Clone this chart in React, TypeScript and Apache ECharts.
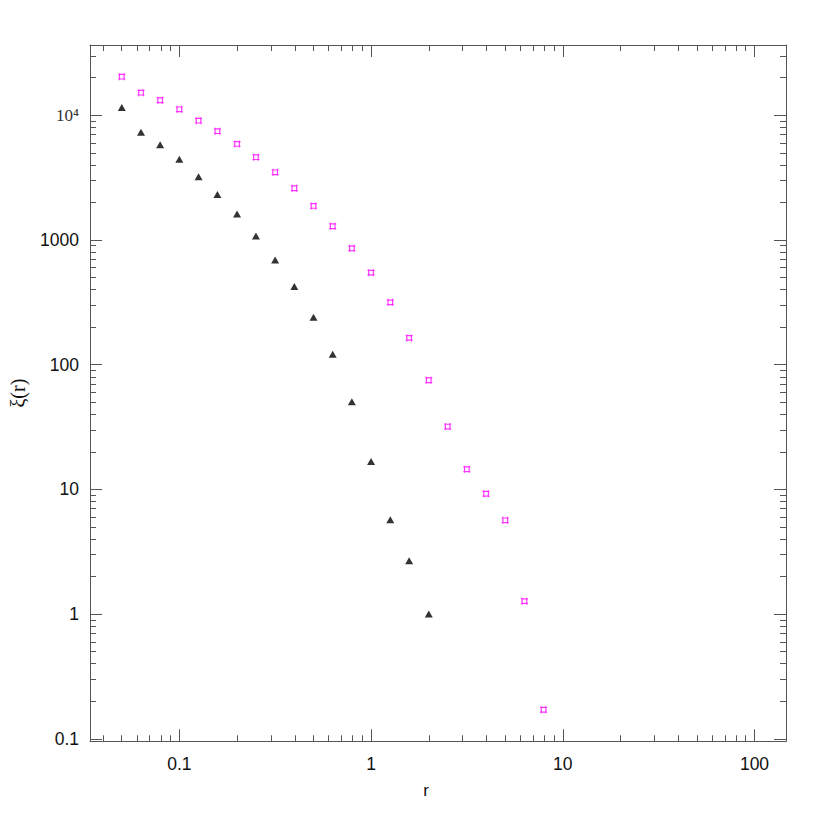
import { useEffect, useRef } from 'react';
import * as echarts from 'echarts';

// separation r (x) for each point
const R_VALUES = [
  0.0501, 0.0631, 0.0794, 0.1, 0.126, 0.158, 0.2, 0.251, 0.316, 0.398, 0.501, 0.631,
  0.794, 1, 1.26, 1.58, 2, 2.51, 3.16, 3.98, 5.01, 6.31, 7.94,
];
// ξ(r) black triangles
const XI_TRIANGLES = [
  11550, 7310, 5810, 4440, 3220, 2320, 1615, 1077, 692, 423, 240, 121, 50.5, 16.7, 5.71, 2.68, 1.0,
];
// ξ(r) magenta squares
const XI_SQUARES = [
  20390, 15170, 13190, 11170, 9050, 7450, 5890, 4610, 3490, 2600, 1875, 1288, 857, 547, 316, 164,
  75.0, 31.9, 14.5, 9.23, 5.65, 1.27, 0.171,
];
const X_MAJOR = [0.1, 1, 10, 100];
const X_LABELS = ['0.1', '1', '10', '100'];
const Y_MAJOR = [0.1, 1, 10, 100, 1000, 10000];
const Y_LABELS = ['0.1', '1', '10', '100', '1000', '10⁴'];
const X_RANGE = [0.0342, 146];
const Y_RANGE = [0.0955, 36600];
const DECADES = [-2, -1, 0, 1, 2, 3, 4];

const lg = (v: number) => Math.log10(v);

function minorLogs(range: number[]) {
  const out: number[] = [];
  DECADES.forEach((e) => {
    for (let d = 2; d <= 9; d++) {
      const v = lg(d) + e;
      if (v > lg(range[0]) && v < lg(range[1])) out.push(v);
    }
  });
  return out;
}

const AXIS_COLOR = '#555';
const SANS = 'Liberation Sans, Arial, sans-serif';
const SERIF = 'Liberation Serif, DejaVu Serif, serif';

function makeAxis(
  position: string,
  range: number[],
  ticks: number[],
  length: number,
  showLine: boolean,
  labels: null | ((v: number) => string),
  extra: any = {},
) {
  return {
    type: 'value',
    position,
    min: lg(range[0]),
    max: lg(range[1]),
    splitLine: { show: false },
    axisLine: { show: showLine, onZero: false, lineStyle: { color: AXIS_COLOR, width: 1 } },
    axisTick: {
      show: true,
      inside: true,
      length,
      customValues: ticks,
      lineStyle: { color: AXIS_COLOR, width: 1 },
    },
    axisLabel: labels
      ? {
          show: true,
          customValues: ticks,
          formatter: labels,
          color: '#111',
          fontFamily: SANS,
          fontSize: 17.5,
          ...(extra.label || {}),
        }
      : { show: false },
    ...(extra.axis || {}),
  };
}

export default function App() {
  const ref = useRef<HTMLDivElement>(null);
  useEffect(() => {
    if (!ref.current) return;
    const chart = echarts.init(ref.current, undefined, { renderer: 'svg' });
    const xMajor = X_MAJOR.map(lg);
    const yMajor = Y_MAJOR.map(lg);
    const xMinor = minorLogs(X_RANGE);
    const yMinor = minorLogs(Y_RANGE);
    const xFmt = (v: number) => X_LABELS[xMajor.findIndex((m) => Math.abs(m - v) < 1e-6)] ?? '';
    const yFmt = (v: number) => {
      const i = yMajor.findIndex((m) => Math.abs(m - v) < 1e-6);
      if (i === 5) return '{s|' + Y_LABELS[i] + '}';
      return Y_LABELS[i] ?? '';
    };
    const hashPath = 'path://M0 1.2H7M0 5.8H7M1.2 0V7M5.8 0V7';
    chart.setOption({
      animation: false,
      backgroundColor: '#fff',
      grid: { left: 90, right: 44, top: 45, bottom: 88.7, outerBoundsMode: 'none', containLabel: false },
      xAxis: [
        makeAxis('bottom', X_RANGE, xMajor, 12, true, xFmt, {
          label: { margin: 14 },
          axis: {
            name: 'r',
            nameLocation: 'middle',
            nameGap: 41,
            nameTextStyle: {
              color: '#111',
              fontFamily: SANS,
              fontSize: 17,
              padding: [0, 24, 0, 0],
            },
          },
        }),
        makeAxis('bottom', X_RANGE, xMinor, 6, false, null),
        makeAxis('top', X_RANGE, xMajor, 12, true, null),
        makeAxis('top', X_RANGE, xMinor, 6, false, null),
      ],
      yAxis: [
        makeAxis('left', Y_RANGE, yMajor, 12, true, yFmt, {
          label: {
            margin: 11,
            rich: {
              s: { fontFamily: SERIF, fontSize: 17, color: '#333' },
            },
          },
          axis: {
            name: 'ξ(r)',
            nameLocation: 'middle',
            nameGap: 62,
            nameRotate: 90,
            nameTextStyle: {
              color: '#111',
              fontFamily: SERIF,
              fontSize: 20,
            },
          },
        }),
        makeAxis('left', Y_RANGE, yMinor, 6, false, null),
        makeAxis('right', Y_RANGE, yMajor, 12, true, null),
        makeAxis('right', Y_RANGE, yMinor, 6, false, null),
      ],
      series: [
        {
          type: 'scatter',
          name: 'squares',
          xAxisIndex: 0,
          yAxisIndex: 0,
          symbol: hashPath,
          symbolSize: 7,
          itemStyle: { color: 'rgba(0,0,0,0)', borderColor: '#ff00ff', borderWidth: 1.2 },
          data: XI_SQUARES.map((v, i) => [lg(R_VALUES[i]), lg(v)]),
        },
        {
          type: 'scatter',
          name: 'triangles',
          xAxisIndex: 0,
          yAxisIndex: 0,
          symbol: 'triangle',
          symbolSize: [8, 7],
          itemStyle: { color: '#000' },
          data: XI_TRIANGLES.map((v, i) => [lg(R_VALUES[i]), lg(v)]),
        },
      ],
    });
    return () => chart.dispose();
  }, []);
  return (
    <div
      ref={ref}
      style={{ position: 'fixed', left: 0, top: 0, width: 830, height: 830, background: '#fff' }}
    />
  );
}
